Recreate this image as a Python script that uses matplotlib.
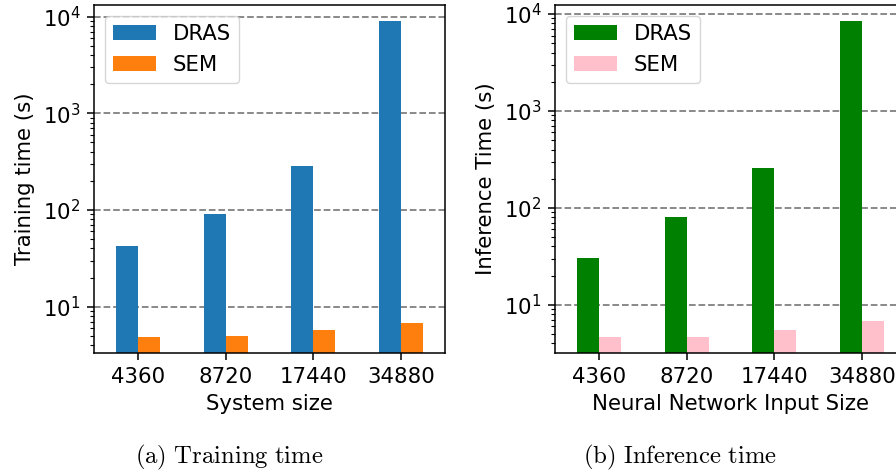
import matplotlib
matplotlib.use("Agg")
import matplotlib.pyplot as plt
import numpy as np

categories = ["4360", "8720", "17440", "34880"]
train_dras = [42.5, 91, 285, 9000]
train_sem = [4.85, 4.98, 5.75, 6.8]
infer_dras = [30.3, 80.5, 257, 8450]
infer_sem = [4.65, 4.65, 5.5, 6.8]

plt.rcParams['font.family'] = ['DejaVu Sans']
plt.rcParams['mathtext.fontset'] = 'dejavusans'
plt.rcParams['axes.linewidth'] = 1.1
for a in ('xtick', 'ytick'):
    plt.rcParams[f'{a}.major.size'] = 4.9
    plt.rcParams[f'{a}.minor.size'] = 2.8
    plt.rcParams[f'{a}.major.width'] = 1.1
    plt.rcParams[f'{a}.minor.width'] = 0.8
    plt.rcParams[f'{a}.major.pad'] = 4.9
    plt.rcParams[f'{a}.minor.pad'] = 4.9
plt.rcParams['axes.labelpad'] = 5.6
FS = 15.3

fig = plt.figure(figsize=(8.96, 4.72), dpi=100)
axL = fig.add_axes([94/896, 1-353/472, 351/896, 348/472])
axR = fig.add_axes([555/896, 1-353/472, 351/896, 348/472])

x = np.arange(len(categories))
w = 0.25

def draw(ax, d, s, c1, c2, ylabel, xlabel, ylim):
    ax.bar(x - w/2, d, w, color=c1, label="DRAS")
    ax.bar(x + w/2, s, w, color=c2, label="SEM")
    ax.set_yscale('log')
    ax.set_ylim(*ylim)
    ax.set_xlim(-0.5, 3.5)
    ax.set_xticks(x)
    ax.set_xticklabels(categories)
    ax.tick_params(labelsize=FS)
    ax.set_ylabel(ylabel, fontsize=FS)
    ax.set_xlabel(xlabel, fontsize=FS)
    ax.set_axisbelow(True)
    ax.yaxis.grid(True, which='major', linestyle='--', color='gray', linewidth=1.3)
    ax.legend(loc='upper left', fontsize=FS)

draw(axL, train_dras, train_sem, '#1f77b4', '#ff7f0e', 'Training time (s)', 'System size', (3.32, 13200))
draw(axR, infer_dras, infer_sem, 'green', 'pink', 'Inference Time (s)', 'Neural Network Input Size', (3.18, 12400))

fig.text(229/896, 1-457/472, r'$\mathrm{(a)\ Training\ time}$', ha='center', va='center',
         fontsize=17.8, math_fontfamily='cm')
fig.text(680/896, 1-457/472, r'$\mathrm{(b)\ Inference\ time}$', ha='center', va='center',
         fontsize=17.8, math_fontfamily='cm')

fig.savefig("out.png", dpi=100)
